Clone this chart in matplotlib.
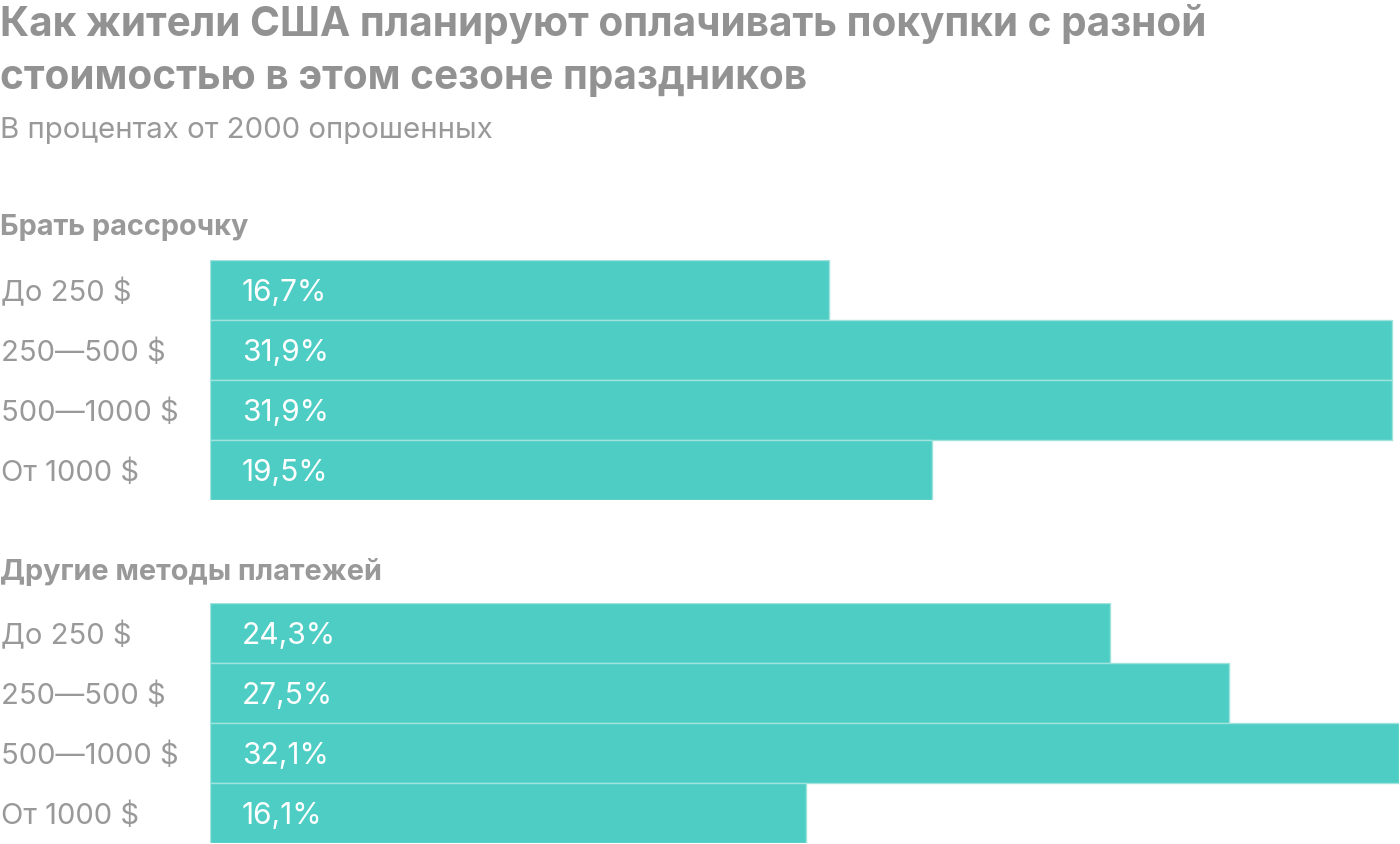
import matplotlib
matplotlib.use("Agg")
import matplotlib.pyplot as plt

plt.rcParams['font.family'] = ['Inter', 'DejaVu Sans']

title_lines = ["Как жители США планируют оплачивать покупки с разной",
               "стоимостью в этом сезоне праздников"]
subtitle = "В процентах от 2000 опрошенных"
section_titles = ["Брать рассрочку", "Другие методы платежей"]
categories = ["До 250 $", "250—500 $", "500—1000 $", "От 1000 $"]
installment = [16.7, 31.9, 31.9, 19.5]
other_methods = [24.3, 27.5, 32.1, 16.1]

W, H = 1400, 844
BAR = '#4ECDC4'
EDGE = '#9fe3dd'
GRAY = '#999999'
TGRAY = '#929292'

fig = plt.figure(figsize=(W / 100, H / 100), dpi=100)

def fy(px):
    return 1 - px / H

# titles
fig.text(0, fy(36), title_lines[0], fontsize=29.2, fontweight='bold', color=TGRAY, va='baseline', ha='left')
fig.text(0, fy(89), title_lines[1], fontsize=29.2, fontweight='bold', color=TGRAY, va='baseline', ha='left')
fig.text(0, fy(138), subtitle, fontsize=21.2, color=GRAY, va='baseline', ha='left')

xmax = max(max(installment), max(other_methods))
groups = [(installment, 260, 235), (other_methods, 603, 580)]
for (vals, top, head_base), stitle in zip(groups, section_titles):
    fig.text(0, fy(head_base), stitle, fontsize=20.8, fontweight='bold', color=GRAY, va='baseline', ha='left')
    ax = fig.add_axes([210 / W, fy(top + 240), (1399 - 210) / W, 240 / H])
    y = list(range(len(vals)))
    ax.barh(y, vals, height=1.0, color=BAR, edgecolor=EDGE, linewidth=1.0, align='center')
    ax.set_xlim(0, xmax)
    ax.set_ylim(len(vals) - 0.5, -0.5)
    ax.axis('off')
    for i, (v, c) in enumerate(zip(vals, categories)):
        ax.annotate(f"{v:.1f}%".replace('.', ','), xy=(0, i), xytext=(32, -11),
                    textcoords='offset pixels', ha='left', va='baseline',
                    fontsize=21.5, color='white', annotation_clip=False)
        ax.annotate(c, xy=(1, i), xycoords=('figure pixels', 'data'), xytext=(0, -11),
                    textcoords='offset pixels', ha='left', va='baseline',
                    fontsize=21, color=GRAY, annotation_clip=False)

fig.savefig('out.png', dpi=100)
